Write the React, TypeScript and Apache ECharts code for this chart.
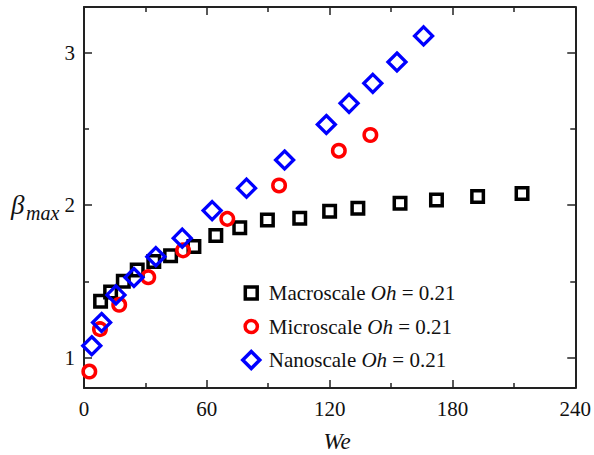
import React, { useEffect, useRef } from "react";
import * as echarts from "echarts";

const weMacro = [8.1, 13.0, 19.2, 26.0, 34.1, 42.3, 53.7, 64.4, 76.1, 89.6, 105.4, 120.0, 133.8, 154.4, 172.2, 192.3, 214.0];
const betaMacro = [1.37, 1.43, 1.5, 1.575, 1.63, 1.667, 1.728, 1.8, 1.852, 1.903, 1.914, 1.959, 1.98, 2.012, 2.034, 2.056, 2.077];

const weMicro = [2.6, 7.8, 17.2, 31.4, 48.4, 70.0, 95.3, 124.5, 139.9];
const betaMicro = [0.908, 1.186, 1.346, 1.527, 1.703, 1.91, 2.129, 2.357, 2.46];

const weNano = [3.8, 8.6, 15.6, 24.4, 35.1, 48.0, 62.6, 79.4, 98.0, 118.4, 129.5, 141.1, 152.9, 165.9];
const betaNano = [1.077, 1.23, 1.411, 1.525, 1.662, 1.783, 1.964, 2.111, 2.296, 2.529, 2.668, 2.799, 2.939, 3.11];

const seriesNames = ["Macroscale", "Microscale", "Nanoscale"];
const xTicks = { min: 0, max: 240, interval: 60 };
const yRange = { min: 0.8, max: 3.3 };
const yMajor = [1, 2, 3];
const yMinor = [1.5, 2.5];

const FONT = "Liberation Serif";
const AXIS = "#222";

const legendIcons = [
  "path://M0 0M20 20M3 3L17 3L17 17L3 17Z",
  "path://M0 0M20 20M17.2 10A7.2 7.2 0 1 1 2.8 10A7.2 7.2 0 1 1 17.2 10Z",
  "path://M0 0M20 20M10 0L20 10L10 20L0 10Z",
];

function zip(xs: number[], ys: number[]) {
  return xs.map((x, i) => [x, ys[i]]);
}

export default function App() {
  const ref = useRef<HTMLDivElement>(null);
  useEffect(() => {
    if (!ref.current) return;
    const chart = echarts.init(ref.current, undefined, { renderer: "svg" });
    const axisLine = { show: true, lineStyle: { color: AXIS, width: 2 } };
    const tickStyle = { color: AXIS, width: 1.5 };
    const xBase = (pos: string, labels: boolean) => ({
      type: "value",
      position: pos,
      min: xTicks.min,
      max: xTicks.max,
      interval: xTicks.interval,
      axisLine,
      axisTick: { show: true, inside: true, length: 8, lineStyle: tickStyle },
      minorTick: { show: true, splitNumber: 2, length: 5, lineStyle: tickStyle },
      axisLabel: {
        show: labels,
        fontFamily: FONT,
        fontSize: 21,
        color: "#111",
        margin: 10,
      },
      splitLine: { show: false },
      minorSplitLine: { show: false },
    });
    const yBase = (pos: string, major: boolean, labels: boolean) => ({
      type: "value",
      position: pos,
      min: yRange.min,
      max: yRange.max,
      axisLine: major ? axisLine : { show: false },
      axisTick: {
        show: true,
        inside: true,
        length: major ? 8 : 5,
        lineStyle: tickStyle,
        customValues: major ? yMajor : yMinor,
      },
      axisLabel: {
        show: labels,
        customValues: yMajor,
        fontFamily: FONT,
        fontSize: 21,
        color: "#111",
        margin: 9,
      },
      splitLine: { show: false },
    });
    const hollow = (color: string, w: number) => ({
      color: "rgba(255,255,255,0)",
      borderColor: color,
      borderWidth: w,
      opacity: 1,
    });
    chart.setOption({
      animation: false,
      grid: { left: 84, right: 18, top: 7, bottom: 67, containLabel: false },
      xAxis: [xBase("bottom", true), xBase("top", false)],
      yAxis: [
        yBase("left", true, true),
        yBase("left", false, false),
        yBase("right", true, false),
        yBase("right", false, false),
      ],
      legend: {
        orient: "vertical",
        left: 236,
        top: 277,
        itemWidth: 17,
        itemHeight: 17,
        itemGap: 11.5,
        data: seriesNames.map((n, i) => ({ name: n, icon: legendIcons[i] })),
        itemStyle: { borderWidth: 3.5, opacity: 1 },
        formatter: (name: string) => `${name} {i|Oh} = 0.21`,
        textStyle: {
          fontFamily: FONT,
          fontSize: 21,
          color: "#111",
          lineHeight: 22,
          padding: [0, 0, 0, 4],
          rich: {
            i: { fontFamily: FONT, fontSize: 21, fontStyle: "italic", color: "#111" },
          },
        },
      },
      graphic: [
        {
          type: "text",
          x: 11,
          y: 205,
          style: { text: "β", fontFamily: FONT, fontSize: 27, fontStyle: "italic", fill: "#111", verticalAlign: "middle" },
        },
        {
          type: "text",
          x: 26,
          y: 213,
          style: { text: "max", fontFamily: FONT, fontSize: 20, fontStyle: "italic", fill: "#111", verticalAlign: "middle" },
        },
        {
          type: "text",
          x: 337,
          y: 441,
          style: { text: "We", fontFamily: FONT, fontSize: 23, fontStyle: "italic", fill: "#111", align: "center", verticalAlign: "middle" },
        },
      ],
      series: [
        {
          name: seriesNames[0],
          type: "scatter",
          symbol: "rect",
          symbolSize: 11.5,
          itemStyle: hollow("#000000", 3.5),
          data: zip(weMacro, betaMacro),
        },
        {
          name: seriesNames[1],
          type: "scatter",
          symbol: "circle",
          symbolSize: 12.5,
          itemStyle: hollow("#ff0000", 3.5),
          data: zip(weMicro, betaMicro),
        },
        {
          name: seriesNames[2],
          type: "scatter",
          symbol: "diamond",
          symbolSize: 18,
          itemStyle: hollow("#0000ff", 3.3),
          data: zip(weNano, betaNano),
        },
      ],
    });
    return () => chart.dispose();
  }, []);
  return (
    <div
      ref={ref}
      style={{ position: "fixed", left: 0, top: 0, width: 594, height: 455, background: "#fff" }}
    />
  );
}
